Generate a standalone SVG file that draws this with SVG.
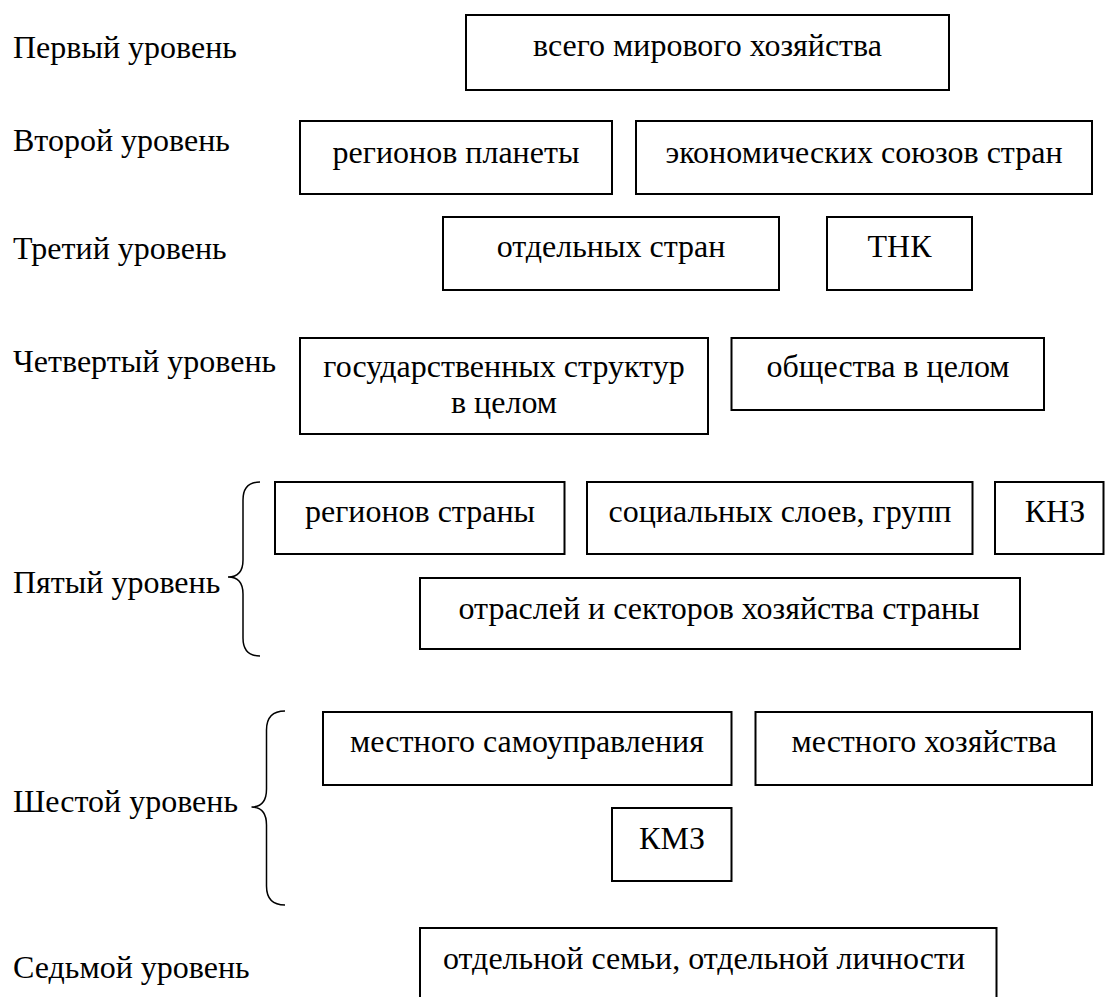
<svg xmlns="http://www.w3.org/2000/svg" width="1105" height="997" viewBox="0 0 1105 997">
<defs>
<style>
.t{font-family:'Liberation Serif',serif;font-size:32px;fill:#000}
.c{text-anchor:middle}
.b{fill:#fff;stroke:#000;stroke-width:2}
.br{fill:none;stroke:#000;stroke-width:1.5}
</style>
</defs>
<g id="labels">
<text class="t" x="13" y="58" style="font-family:'Liberation Serif',serif">Первый уровень</text>
<text class="t" x="13" y="150.5" style="font-family:'Liberation Serif',serif">Второй уровень</text>
<text class="t" x="13" y="259" style="font-family:'Liberation Serif',serif">Третий уровень</text>
<text class="t" x="13" y="372" style="font-family:'Liberation Serif',serif">Четвертый уровень</text>
<text class="t" x="13" y="593" style="font-family:'Liberation Serif',serif">Пятый уровень</text>
<text class="t" x="13" y="812" style="font-family:'Liberation Serif',serif">Шестой уровень</text>
<text class="t" x="13" y="978" style="font-family:'Liberation Serif',serif">Седьмой уровень</text>
</g>
<g id="n1"><rect class="b" x="466" y="15" width="483" height="75"/><text class="t c" x="707.5" y="56" style="font-family:'Liberation Serif',serif">всего мирового хозяйства</text></g>
<g id="n2a"><rect class="b" x="300" y="121" width="312" height="73"/><text class="t c" x="456" y="162.5" style="font-family:'Liberation Serif',serif">регионов планеты</text></g>
<g id="n2b"><rect class="b" x="636" y="121" width="456" height="73"/><text class="t c" x="864" y="162.5" style="font-family:'Liberation Serif',serif">экономических союзов стран</text></g>
<g id="n3a"><rect class="b" x="443" y="217" width="336" height="73"/><text class="t c" x="611" y="257" style="font-family:'Liberation Serif',serif">отдельных стран</text></g>
<g id="n3b"><rect class="b" x="827" y="217" width="145" height="73"/><text class="t c" x="899.5" y="257" style="font-family:'Liberation Serif',serif">ТНК</text></g>
<g id="n4a"><rect class="b" x="300" y="338" width="408" height="96"/><text class="t c" x="504" y="377" style="font-family:'Liberation Serif',serif">государственных структур</text><text class="t c" x="504" y="413" style="font-family:'Liberation Serif',serif">в целом</text></g>
<g id="n4b"><rect class="b" x="731.5" y="338" width="312.5" height="72"/><text class="t c" x="888" y="377" style="font-family:'Liberation Serif',serif">общества в целом</text></g>
<g id="n5a"><rect class="b" x="275" y="482" width="289.5" height="72"/><text class="t c" x="420" y="521.5" style="font-family:'Liberation Serif',serif">регионов страны</text></g>
<g id="n5b"><rect class="b" x="587" y="482" width="385.5" height="72"/><text class="t c" x="780" y="521.5" style="font-family:'Liberation Serif',serif">социальных слоев, групп</text></g>
<g id="n5c"><rect class="b" x="995" y="482" width="108.5" height="72"/><text class="t c" x="1055" y="521.5" style="font-family:'Liberation Serif',serif">КНЗ</text></g>
<g id="n5d"><rect class="b" x="420" y="578" width="600" height="71"/><text class="t c" x="719" y="618.5" style="font-family:'Liberation Serif',serif">отраслей и секторов хозяйства страны</text></g>
<g id="n6a"><rect class="b" x="323" y="712" width="408.5" height="73"/><text class="t c" x="527" y="752" style="font-family:'Liberation Serif',serif">местного самоуправления</text></g>
<g id="n6b"><rect class="b" x="755.5" y="712" width="336.5" height="73"/><text class="t c" x="924" y="752" style="font-family:'Liberation Serif',serif">местного хозяйства</text></g>
<g id="n6c"><rect class="b" x="612" y="808" width="119.5" height="73"/><text class="t c" x="672" y="848.5" style="font-family:'Liberation Serif',serif">КМЗ</text></g>
<g id="n7"><rect class="b" x="420" y="928" width="576.5" height="80"/><text class="t c" x="704" y="968.5" style="font-family:'Liberation Serif',serif">отдельной семьи, отдельной личности</text></g>
<g id="braces">
<path class="br" d="M260,482 Q243,482 243,500 L243,560 Q243,577 228,577 Q243,577 243,594 L243,638 Q243,656 260,656"/>
<path class="br" d="M285,711 Q266.5,711 266.5,730 L266.5,789 Q266.5,807 251.5,807 Q266.5,807 266.5,825 L266.5,886 Q266.5,905 285,905"/>
</g>
</svg>
